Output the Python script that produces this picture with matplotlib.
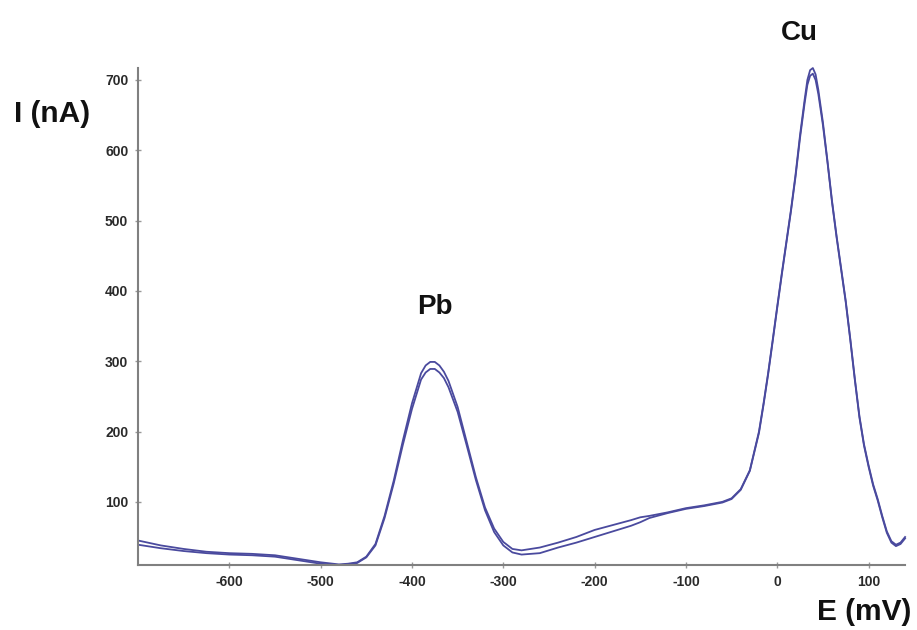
import numpy as np
import matplotlib
matplotlib.use('Agg')
import matplotlib.pyplot as plt

plt.rcParams['font.family'] = ['Liberation Sans', 'DejaVu Sans']
plt.rcParams['axes.unicode_minus'] = False

# potential (mV)
E = [-700, -675, -650, -625, -600, -575, -550, -525, -500, -480,
     -470, -460, -450, -440, -430, -420, -410, -400, -390, -385,
     -380, -375, -370, -365, -360, -350, -340, -330, -320, -310,
     -300, -290, -280, -260, -240, -220, -200, -180, -160, -150,
     -140, -120, -100, -80, -60, -50, -40, -30, -20, -15,
     -10, -5, 0, 5, 10, 15, 20, 25, 30, 33,
     36, 39, 42, 45, 50, 55, 60, 65, 70, 75,
     80, 85, 90, 95, 100, 105, 110, 115, 120, 125,
     130, 135, 140]

# current (nA), two scans
scan_1 = [45, 38, 33, 29, 27, 26, 24, 19, 14, 11,
          12, 14, 22, 40, 80, 130, 187, 240, 283, 294,
          299, 299, 294, 285, 272, 235, 185, 135, 92, 62,
          43, 33, 31, 35, 42, 50, 60, 67, 74, 78,
          80, 85, 91, 95, 100, 105, 118, 145, 200, 240,
          283, 330, 378, 425, 470, 515, 565, 622, 672, 700,
          714, 717, 708, 686, 640, 585, 528, 478, 432, 386,
          332, 275, 222, 182, 152, 125, 104, 80, 58, 44,
          39, 42, 50]

scan_2 = [39, 34, 30, 27, 25, 24, 22, 17, 12, 10,
          11, 13, 21, 38, 77, 126, 181, 232, 274, 284,
          289, 289, 284, 276, 263, 228, 180, 131, 88, 57,
          38, 28, 25, 27, 35, 42, 50, 58, 66, 71,
          77, 84, 90, 94, 99, 104, 117, 144, 198, 238,
          281, 328, 376, 423, 468, 513, 562, 618, 667, 693,
          706, 709, 700, 680, 636, 583, 526, 476, 430, 384,
          330, 273, 220, 180, 150, 123, 102, 78, 56, 42,
          37, 40, 48]

xticks = [-600, -500, -400, -300, -200, -100, 0, 100]
yticks = [100, 200, 300, 400, 500, 600, 700]

fig = plt.figure(figsize=(9.17, 6.3), dpi=100)
ax = fig.add_axes([0.1505, 0.103, 0.8365, 0.789])

for scan in (scan_1, scan_2):
    ax.plot(E, scan, color='#4a4a9e', lw=1.3, clip_on=False)

ax.set_xlim(-700, 140)
ax.set_ylim(10, 717)
ax.set_xticks(xticks)
ax.set_yticks(yticks)
ax.set_xticklabels([str(v) for v in xticks])

for s in ('top', 'right'):
    ax.spines[s].set_visible(False)
for s in ('left', 'bottom'):
    ax.spines[s].set_color('#808080')
    ax.spines[s].set_linewidth(1.5)

ax.tick_params(direction='inout', length=4, width=1, color='#999999',
               labelsize=10, labelcolor='#2a2a2a', pad=5)
for lab in ax.get_xticklabels() + ax.get_yticklabels():
    lab.set_fontweight('bold')

fig.text(52 / 917, 1 - 114 / 630, 'I (nA)', fontsize=21.5, fontweight='bold',
         ha='center', va='center', color='#111111')
fig.text(864 / 917, 1 - 612 / 630, 'E (mV)', fontsize=21.5, fontweight='bold',
         ha='center', va='center', color='#111111')
fig.text(799 / 917, 1 - 33 / 630, 'Cu', fontsize=20, fontweight='bold',
         ha='center', va='center', color='#111111')
fig.text(435 / 917, 1 - 307 / 630, 'Pb', fontsize=20, fontweight='bold',
         ha='center', va='center', color='#111111')

fig.savefig('out.png', dpi=100)
